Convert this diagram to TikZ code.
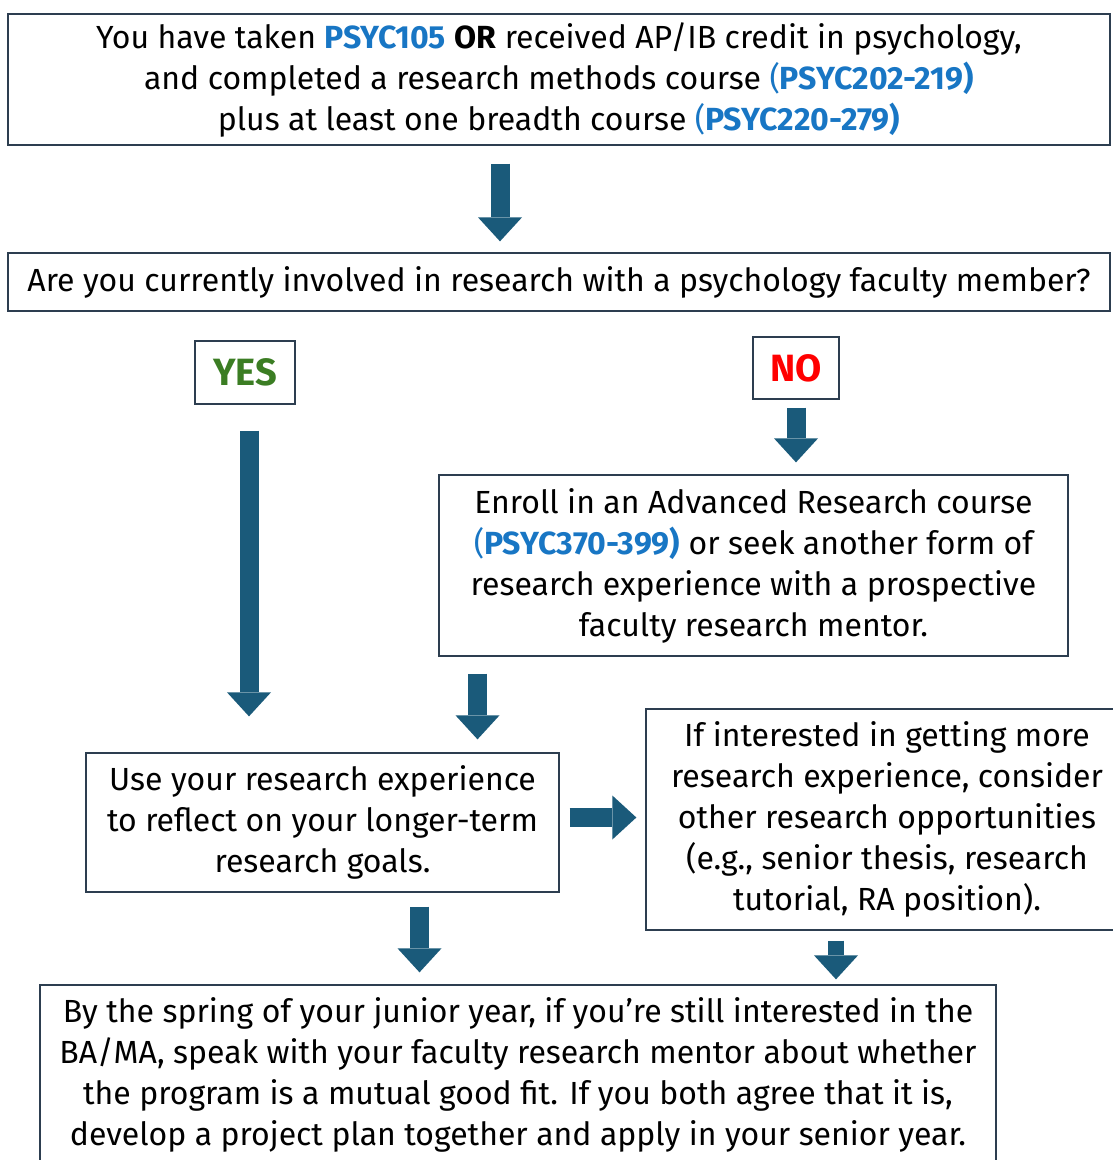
\documentclass[tikz,border=0pt]{standalone}
\usepackage{fontspec}
\setmainfont{Fira Sans}
\usetikzlibrary{arrows.meta}

\definecolor{arrowblue}{RGB}{26,90,122}
\definecolor{boxline}{RGB}{45,62,80}
\definecolor{codeblue}{RGB}{24,118,196}
\definecolor{yesgreen}{RGB}{59,125,35}

% course numbers in bold blue
\newcommand{\course}[1]{{\color{codeblue}\textbf{#1}}}
\newcommand{\courserange}[1]{{\color{codeblue}(\textbf{#1)}}}

\begin{document}
\begin{tikzpicture}[x=1pt,y=-1pt,
    stepbox/.style={draw=boxline, line width=1.3pt, align=center, inner sep=0pt,
        font=\fontsize{32}{41}\selectfont},
    answer/.style={stepbox, font=\fontsize{38}{41}\selectfont\bfseries},
    flow/.style={draw=arrowblue, line width=19pt,
        -{Triangle[width=44pt,length=24pt,line width=0pt,fill=arrowblue]}}]
        \useasboundingbox (0,0) rectangle (1113,1160);
        \clip (0,0) rectangle (1113,1160);

        % Draw the boxes
        \node[stepbox, minimum width=1102pt, minimum height=131pt] (start) at (559,79.5)
            {You have taken \course{PSYC105} \textbf{OR} received AP/IB credit in psychology,\\
             and completed a research methods course \courserange{PSYC202-219}\\
             plus at least one breadth course \courserange{PSYC220-279}};
        \node[stepbox, minimum width=1102pt, minimum height=58pt] (ask) at (559,282)
            {Are you currently involved in research with a psychology faculty member?};
        \node[answer, minimum width=100pt, minimum height=63pt] (yes) at (245,372.5)
            {\textcolor{yesgreen}{YES}};
        \node[answer, minimum width=86pt, minimum height=62pt] (no) at (796,368)
            {\textcolor{red}{NO}};
        \node[stepbox, minimum width=629pt, minimum height=181pt] (enroll) at (753.5,565.5)
            {Enroll in an Advanced Research course\\
             \courserange{PSYC370-399} or seek another form of\\
             research experience with a prospective\\
             faculty research mentor.};
        \node[stepbox, minimum width=473pt, minimum height=139pt] (reflect) at (322.5,822.5)
            {Use your research experience\\
             to reflect on your longer-term\\
             research goals.};
        \node[stepbox, minimum width=482pt, minimum height=221pt] (more) at (887,819.5)
            {If interested in getting more\\
             research experience, consider\\
             other research opportunities\\
             (e.g., senior thesis, research\\
             tutorial, RA position).};
        \node[stepbox, minimum width=956pt, minimum height=180pt] (apply) at (518,1075)
            {By the spring of your junior year, if you’re still interested in the\\
             BA/MA, speak with your faculty research mentor about whether\\
             the program is a mutual good fit. If you both agree that it is,\\
             develop a project plan together and apply in your senior year.};

        % Draw the arrows
        \draw[flow, shorten <=18pt, shorten >=11pt] ([xshift=-59pt]start.south) -- ([xshift=-59pt]start.south |- ask.north);
        \draw[flow, shorten <=26pt, shorten >=36pt] ([xshift=4pt]yes.south) -- ([xshift=4pt]yes.south |- reflect.north);
        \draw[flow, shorten <=8pt, shorten >=12pt] (no.south) -- (no.south |- enroll.north);
        \draw[flow, shorten <=17pt, shorten >=13pt] ([xshift=-276pt]enroll.south) -- ([xshift=-276pt]enroll.south |- reflect.north);
        \draw[flow, shorten <=10pt, shorten >=9pt] ([yshift=5pt]reflect.east) -- ([yshift=5pt]reflect.east -| more.west);
        \draw[flow, shorten <=14pt, shorten >=12pt] ([xshift=97pt]reflect.south) -- ([xshift=97pt]reflect.south |- apply.north);
        \draw[flow, line width=16pt, shorten <=10pt, shorten >=5pt] ([xshift=-51pt]more.south) -- ([xshift=-51pt]more.south |- apply.north);

\end{tikzpicture}
\end{document}
